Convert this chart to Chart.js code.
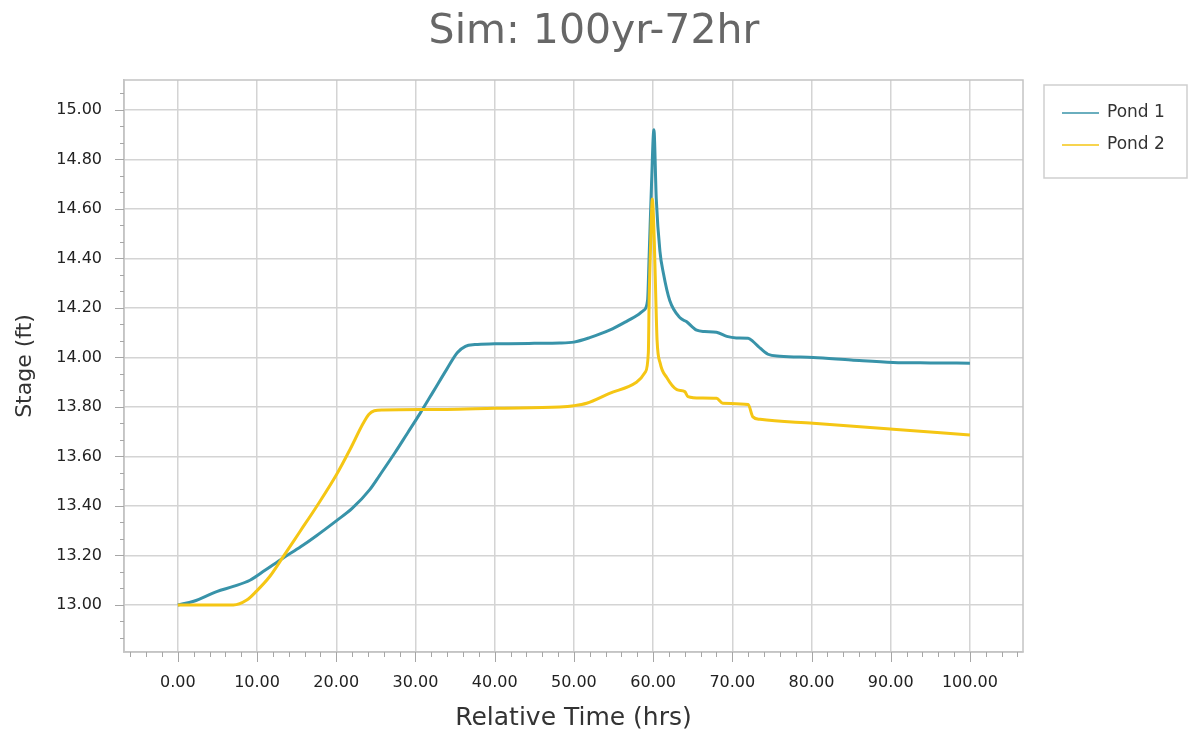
<!DOCTYPE html>
<html>
<head>
<meta charset="utf-8">
<title>Sim: 100yr-72hr</title>
<script src="https://cdn.jsdelivr.net/npm/chart.js@4.4.1/dist/chart.umd.min.js"></script>
<style>
  html, body { margin: 0; padding: 0; background: #fff; }
  #wrap { width: 1188px; height: 740px; }
</style>
</head>
<body>
<div id="wrap"><canvas id="stage-chart" width="1188" height="740"></canvas></div>
<script>
// Stage hydrographs for the two ponds (hours vs ft)
const pond1Hours = [0, 2, 4.9, 7, 9.1, 11, 13.3, 15.5, 17.5, 20, 22, 24.2, 25.5, 27.4, 29, 30.6, 32.3, 33.9,
  35.3, 36.3, 37.5, 40, 45, 48.2, 50, 52, 54.5, 56.6, 58.2, 58.8, 59.3, 59.5, 59.8, 60.1, 60.4, 60.86, 61.3,
  62.1, 63.4, 64.2, 65.5, 66.5, 68, 69.3, 70.5, 72, 72.6, 73.3, 74.5, 76, 80.2, 85, 90.3, 95, 100];
const pond1Stage = [13.00, 13.015, 13.054, 13.075, 13.10, 13.14, 13.19, 13.235, 13.28, 13.34, 13.39, 13.465, 13.525, 13.615, 13.695, 13.775, 13.865, 13.95,
  14.02, 14.045, 14.052, 14.055, 14.057, 14.058, 14.062, 14.08, 14.11, 14.145, 14.175, 14.19, 14.23, 14.41, 14.70, 14.92, 14.64, 14.43, 14.34,
  14.23, 14.16, 14.145, 14.11, 14.105, 14.102, 14.085, 14.079, 14.078, 14.065, 14.044, 14.013, 14.005, 14.0, 13.99, 13.98, 13.978, 13.977];

const pond2Hours = [0, 3, 7, 8.7, 9.9, 11.6, 13.3, 15.4, 17.5, 20, 21.7, 23.4, 24.1, 24.8, 25.9, 33.9, 40, 48.2,
  50, 51.6, 54.5, 57.9, 59, 59.4, 59.5, 59.7, 59.9, 60.15, 60.35, 60.5, 60.9, 61.7, 63, 64, 64.4, 66, 68,
  68.8, 72, 72.6, 73.5, 80.2, 90.3, 100];
const pond2Stage = [13.00, 13.00, 13.00, 13.02, 13.055, 13.115, 13.195, 13.296, 13.397, 13.525, 13.626, 13.734, 13.77, 13.785, 13.788, 13.79, 13.795, 13.80,
  13.805, 13.815, 13.855, 13.90, 13.94, 14.02, 14.23, 14.47, 14.64, 14.47, 14.23, 14.07, 13.976, 13.92, 13.87, 13.862, 13.842, 13.836, 13.835,
  13.815, 13.81, 13.76, 13.75, 13.734, 13.71, 13.687];

// Labelled axis ticks
const hourTicks = [0, 10, 20, 30, 40, 50, 60, 70, 80, 90, 100];
const stageTicks = [13.0, 13.2, 13.4, 13.6, 13.8, 14.0, 14.2, 14.4, 14.6, 14.8, 15.0];

const toPoints = (xs, ys) => xs.map((x, i) => ({ x, y: ys[i] }));
const isLabelled = (list, v) => list.some(t => Math.abs(t - v) < 1e-6);

const gridColor = ctx => (ctx.tick && ctx.tick.major) ? '#d4d4d4' : 'rgba(0,0,0,0)';

// plot frame plus major/minor tick marks outside the plot area
const frameAndTicks = {
    id: 'frameAndTicks',
    afterDraw(chart) {
        const { ctx, chartArea: a, scales: { x, y } } = chart;
        ctx.save();
        ctx.strokeStyle = '#c4c4c4';
        ctx.lineWidth = 1.5;
        ctx.strokeRect(a.left, a.top, a.right - a.left, a.bottom - a.top);

        ctx.strokeStyle = '#a6a6a6';
        ctx.lineWidth = 1;
        ctx.beginPath();
        x.ticks.forEach(t => {
            const px = Math.round(x.getPixelForValue(t.value)) + 0.5;
            ctx.moveTo(px, a.bottom);
            ctx.lineTo(px, a.bottom + (t.major ? 10 : 5));
        });
        y.ticks.forEach(t => {
            const py = Math.round(y.getPixelForValue(t.value)) + 0.5;
            ctx.moveTo(a.left, py);
            ctx.lineTo(a.left - (t.major ? 9 : 4), py);
        });
        ctx.stroke();
        ctx.restore();
    }
};

// boxed legend to the right of the plot
const boxedLegend = {
    id: 'boxedLegend',
    afterDraw(chart) {
        const { ctx, chartArea: a } = chart;
        const left = a.right + 21, top = a.top + 5;
        ctx.save();
        ctx.fillStyle = '#ffffff';
        ctx.fillRect(left, top, 143, 93);
        ctx.strokeStyle = '#cfcfcf';
        ctx.lineWidth = 1.5;
        ctx.strokeRect(left, top, 143, 93);
        ctx.font = '17px "DejaVu Sans"';
        ctx.textBaseline = 'middle';
        chart.data.datasets.forEach((ds, i) => {
            const cy = top + 28 + i * 32;
            ctx.strokeStyle = ds.borderColor;
            ctx.lineWidth = 1.5;
            ctx.beginPath();
            ctx.moveTo(left + 18, cy);
            ctx.lineTo(left + 55, cy);
            ctx.stroke();
            ctx.fillStyle = '#333333';
            ctx.fillText(ds.label, left + 63, cy);
        });
        ctx.restore();
    }
};

new Chart(document.getElementById('stage-chart'), {
    type: 'line',
    data: {
        datasets: [
            {
                label: 'Pond 1',
                data: toPoints(pond1Hours, pond1Stage),
                borderColor: '#3893a9',
                borderWidth: 3,
                pointRadius: 0,
                cubicInterpolationMode: 'monotone',
                order: 1
            },
            {
                label: 'Pond 2',
                data: toPoints(pond2Hours, pond2Stage),
                borderColor: '#f5c614',
                borderWidth: 3,
                pointRadius: 0,
                cubicInterpolationMode: 'monotone',
                order: 0
            }
        ]
    },
    options: {
        responsive: false,
        animation: false,
        plugins: {
            legend: { display: false },
            tooltip: { enabled: false },
            title: {
                display: true,
                text: 'Sim: 100yr-72hr',
                color: '#676767',
                font: { family: 'DejaVu Sans', size: 41, weight: 'normal' },
                padding: { top: 8, bottom: 22.8 }
            }
        },
        scales: {
            x: {
                type: 'linear',
                min: -6.8,
                max: 106.7,
                afterFit: s => { s.height = 88; },
                afterBuildTicks: s => {
                    const ticks = [];
                    for (let k = -3; k <= 53; k++) {
                        const v = k * 2;
                        ticks.push({ value: v, major: isLabelled(hourTicks, v) });
                    }
                    s.ticks = ticks;
                },
                ticks: {
                    autoSkip: false,
                    maxRotation: 0,
                    padding: 21,
                    color: '#222222',
                    font: { family: 'DejaVu Sans', size: 16 },
                    callback: v => isLabelled(hourTicks, v) ? v.toFixed(2) : ''
                },
                grid: { color: gridColor, lineWidth: 1.5, drawTicks: false },
                border: { color: '#c4c4c4', width: 1.5 },
                title: {
                    display: true,
                    text: 'Relative Time (hrs)',
                    color: '#333333',
                    font: { family: 'DejaVu Sans', size: 25 },
                    padding: { top: 0, bottom: 7 }
                }
            },
            y: {
                type: 'linear',
                min: 12.81,
                max: 15.121,
                afterFit: s => { s.width = 124; },
                afterBuildTicks: s => {
                    // minor marks every third of a labelled step
                    const ticks = [];
                    for (let k = -2; k <= 34; k++) {
                        const v = Math.round((13 + k * 0.2 / 3) * 10000) / 10000;
                        if (v >= 12.81 && v <= 15.121) ticks.push({ value: v, major: k % 3 === 0 });
                    }
                    s.ticks = ticks;
                },
                ticks: {
                    autoSkip: false,
                    padding: 22,
                    color: '#222222',
                    font: { family: 'DejaVu Sans', size: 16 },
                    callback: v => isLabelled(stageTicks, v) ? v.toFixed(2) : ''
                },
                grid: { color: gridColor, lineWidth: 1.5, drawTicks: false },
                border: { color: '#c4c4c4', width: 1.5 },
                title: {
                    display: true,
                    text: 'Stage (ft)',
                    color: '#333333',
                    font: { family: 'DejaVu Sans', size: 22 },
                    padding: { top: 12, bottom: 0 }
                }
            },
            // empty right-hand gutter that holds the legend box
            gutter: {
                type: 'linear',
                position: 'right',
                min: 0,
                max: 1,
                afterFit: s => { s.width = 165; },
                grid: { display: false },
                border: { display: false },
                ticks: { display: false }
            }
        }
    },
    plugins: [frameAndTicks, boxedLegend]
});
</script>
</body>
</html>
